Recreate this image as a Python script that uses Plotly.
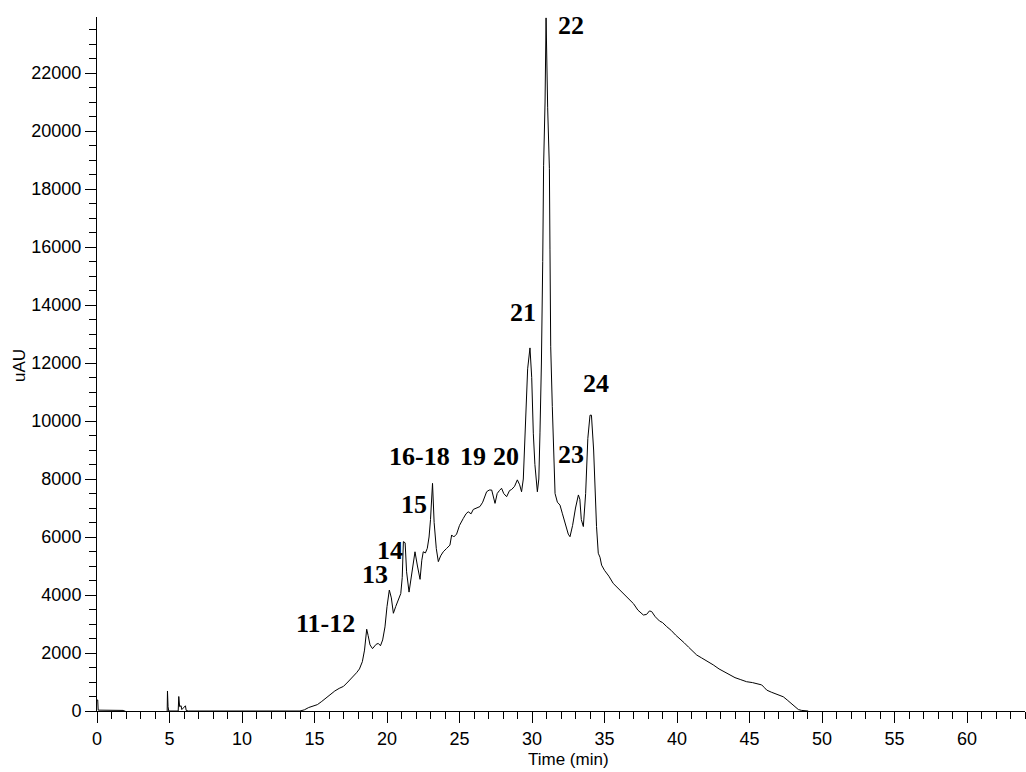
import plotly.graph_objects as go

# Chromatogram trace: retention time (min) and detector response (uAU)
time_min = [
    0.0, 0.05, 0.08, 1.0, 1.8, 2.0, 2.5, 3.0, 3.5, 4.0, 4.5, 4.8,
    4.84, 4.86, 4.9, 4.95, 5.6, 5.64, 5.7, 5.8, 5.85, 6.0, 6.1, 6.15, 6.3,
    14.0, 14.3, 14.6, 14.9, 15.2, 15.5, 15.8, 16.1, 16.4, 16.7, 17.0, 17.3,
    17.6, 17.9, 18.1, 18.3, 18.45, 18.6, 18.7, 18.83, 19.0, 19.1, 19.25,
    19.4, 19.55, 19.7, 19.86, 20.0, 20.16, 20.3, 20.44, 20.6, 20.78, 20.95,
    21.05, 21.13, 21.25, 21.35, 21.52, 21.7, 21.93, 22.1, 22.28, 22.4, 22.5,
    22.65, 22.78, 22.9, 23.0, 23.14, 23.25, 23.4, 23.54, 23.7, 23.88, 24.1,
    24.34, 24.46, 24.6, 24.8, 25.0, 25.26, 25.45, 25.6, 25.8, 25.95, 26.2,
    26.41, 26.6, 26.87, 27.05, 27.22, 27.45, 27.6, 27.75, 27.9, 28.05, 28.25,
    28.45, 28.6, 28.8, 28.99, 29.15, 29.28, 29.4, 29.55, 29.7, 29.86, 29.98,
    30.09, 30.2, 30.37, 30.47, 30.55, 30.65, 30.74, 30.8, 30.9, 30.97, 31.08,
    31.2, 31.24, 31.29, 31.4, 31.47, 31.59, 31.75, 31.93, 32.1, 32.3, 32.5,
    32.62, 32.8, 33.0, 33.2, 33.3, 33.4, 33.54, 33.7, 33.85, 34.0, 34.1,
    34.25, 34.45, 34.57, 34.69, 34.8, 35.0, 35.3, 35.6, 35.9, 36.2, 36.5,
    36.76, 37.0, 37.3, 37.68, 37.9, 38.1, 38.25, 38.5, 38.8, 39.0, 39.29,
    39.6, 39.9, 40.2, 40.5, 40.8, 41.1, 41.36, 41.7, 42.1, 42.5, 42.9, 43.3,
    43.66, 44.0, 44.4, 44.8, 45.2, 45.5, 45.84, 46.0, 46.19, 46.5, 46.9,
    47.15, 47.33, 47.6, 47.9, 48.2, 48.37, 48.6, 49.05,
]
signal_uau = [
    380, 380, 30, 20, 20, -20, -30, -20, -40, -20, -30, -20,
    0, 690, 150, 0, 0, 500, 150, 180, 50, 150, 180, 20, 0,
    0, 40, 120, 170, 220, 330, 450, 600, 690, 780, 850, 1000,
    1150, 1320, 1450, 1700, 2100, 2820, 2600, 2280, 2150, 2200, 2300,
    2330, 2250, 2450, 2900, 3600, 4170, 3900, 3370, 3600, 3850, 4050,
    4600, 5840, 5800, 4800, 4100, 4700, 5490, 5000, 4540, 5200, 5490,
    5450, 5610, 6000, 6600, 7850, 6500, 5600, 5150, 5350, 5490, 5600,
    5720, 6070, 6000, 6100, 6400, 6640, 6800, 6870, 6800, 6950, 7000,
    7050, 7200, 7560, 7620, 7620, 7160, 7500, 7600, 7680, 7500, 7390,
    7600, 7640, 7750, 7970, 7800, 7560, 8000, 9800, 11800, 12520, 11500,
    9580, 8500, 7560, 8000, 9590, 12000, 15500, 18800, 21000, 23900, 20800,
    18700, 15900, 12560, 10500, 9350, 7500, 7200, 7100, 6800, 6400, 6100,
    6010, 6400, 7000, 7450, 7300, 6600, 6360, 7500, 9400, 10200, 10200,
    9000, 6360, 5440, 5300, 5030, 4850, 4650, 4400, 4250, 4100, 3950,
    3830, 3700, 3480, 3310, 3330, 3450, 3430, 3250, 3100, 3050, 2910,
    2780, 2620, 2500, 2350, 2200, 2050, 1930, 1830, 1720, 1590, 1450, 1350,
    1240, 1150, 1080, 1010, 980, 930, 900, 820, 720, 650, 560,
    520, 490, 380, 250, 120, 50, 20, 0,
]

# Peak numbering labels and where they sit
peak_labels = ["11-12", "13", "14", "15", "16-18", "19", "20", "21", "22", "23", "24"]
label_time = [15.77, 19.17, 20.21, 21.86, 22.23, 25.91, 28.19, 29.36, 32.71, 32.69, 34.39]
label_level = [3024, 4690, 5528, 7138, 8793, 8793, 8793, 13748, 23645, 8828, 11310]

x_ticks = list(range(0, 65, 5))
y_ticks = list(range(0, 24000, 2000))

fig = go.Figure()
fig.add_trace(go.Scatter(
    x=time_min, y=signal_uau, mode="lines",
    line=dict(color="black", width=1),
    hoverinfo="skip", showlegend=False,
))

for text, tx, ty in zip(peak_labels, label_time, label_level):
    fig.add_annotation(
        x=tx, y=ty, xref="x", yref="y", text=f"<b>{text}</b>",
        showarrow=False, xanchor="center", yanchor="middle",
        font=dict(family="Liberation Serif", size=26, color="black"),
    )

# Axis titles
fig.add_annotation(
    x=0.5086, y=-0.0706, xref="paper", yref="paper", text="Time (min)",
    showarrow=False, xanchor="center", yanchor="middle",
    font=dict(family="Liberation Sans", size=17, color="black"),
)
fig.add_annotation(
    x=-0.083, y=0.4986, xref="paper", yref="paper", text="uAU",
    showarrow=False, xanchor="center", yanchor="middle", textangle=-90,
    font=dict(family="Liberation Sans", size=17, color="black"),
)

axis_font = dict(family="Liberation Sans", size=18, color="black")
fig.update_xaxes(
    range=[0, 64], tickvals=x_ticks, ticktext=[str(v) for v in x_ticks],
    showline=True, linecolor="black", linewidth=1, mirror=False,
    ticks="outside", ticklen=11, tickwidth=1, tickcolor="black",
    minor=dict(dtick=1, tick0=0, ticks="outside", ticklen=7, tickcolor="black", showgrid=False),
    showgrid=False, zeroline=False, tickfont=axis_font,
)
fig.update_yaxes(
    range=[0, 23931], tickvals=y_ticks, ticktext=[str(v) for v in y_ticks],
    showline=True, linecolor="black", linewidth=1, mirror=False,
    ticks="outside", ticklen=11, tickwidth=1, tickcolor="black",
    minor=dict(dtick=500, tick0=0, ticks="outside", ticklen=7, tickcolor="black", showgrid=False),
    showgrid=False, zeroline=False, tickfont=axis_font,
)

fig.update_layout(
    width=1026, height=772,
    margin=dict(l=97, r=1, t=17, b=61, pad=0),
    paper_bgcolor="white", plot_bgcolor="white",
)

fig.write_html("out.html")
